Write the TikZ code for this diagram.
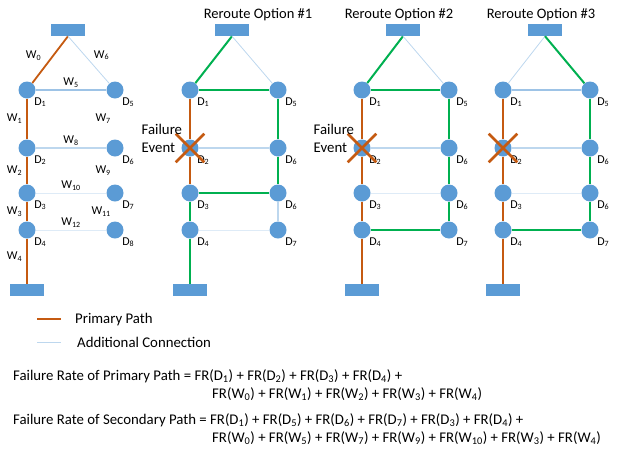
\documentclass[tikz,border=0pt]{standalone}
\usepackage{fontspec}
\setmainfont{Carlito}
\usetikzlibrary{positioning, shapes.misc}
\definecolor{devblue}{HTML}{5B9BD5}
\definecolor{pathorange}{HTML}{C55A11}
\definecolor{routegreen}{HTML}{00B050}
\definecolor{linkblue}{HTML}{9DC3E6}
\definecolor{spareblue}{HTML}{BDD7EE}
\definecolor{paleblue}{HTML}{DEEBF7}
\tikzset{
x=1pt, y=-1pt, % one unit is one pixel of the layout, y grows downwards
dev/.style={circle, fill=devblue, minimum size=17pt, inner sep=0pt}, % a device D
sink/.style={rectangle, fill=devblue, minimum width=34pt, minimum height=12pt, inner sep=0pt}, % end of the path
dlbl/.style={font=\fontsize{12}{14}\selectfont, inner sep=1pt},
wlbl/.style={font=\fontsize{12}{14}\selectfont, inner sep=1pt},
primary/.style={draw=pathorange, line width=1.8pt}, % the primary path
reroute/.style={draw=routegreen, line width=2pt}, % the path taken after the failure
link/.style={draw=linkblue, line width=1.2pt},
spare/.style={draw=spareblue, line width=1.8pt},
thin spare/.style={draw=spareblue, line width=0.8pt},
pale/.style={draw=paleblue, line width=1pt},
failx/.style={cross out, draw=pathorange, line width=2.6pt, minimum size=26pt, inner sep=0pt},
note/.style={font=\fontsize{14.8}{18}\selectfont, align=left, inner sep=0pt},
title/.style={font=\fontsize{14.5}{17}\selectfont, inner sep=0pt},
formula/.style={font=\fontsize{14.8}{18}\selectfont, inner sep=0pt, anchor=base west},
}
\begin{document}
\begin{tikzpicture}
\useasboundingbox (0,0) rectangle (617,458);

% network with all the links
\node[sink] (a0) at (68,30) {};
\node[dev, label={[dlbl]below right:D\textsubscript{1}}] (a1) at (27,90) {};
\node[dev, node distance=58pt, below of=a1, label={[dlbl]below right:D\textsubscript{2}}] (a2) {};
\node[dev, node distance=45pt, below of=a2, label={[dlbl]below right:D\textsubscript{3}}] (a3) {};
\node[dev, node distance=37pt, below of=a3, label={[dlbl]below right:D\textsubscript{4}}] (a4) {};
\node[dev, node distance=88pt, right of=a1, label={[dlbl]below right:D\textsubscript{5}}] (a5) {};
\node[dev, node distance=88pt, right of=a2, label={[dlbl]below right:D\textsubscript{6}}] (a6) {};
\node[dev, node distance=88pt, right of=a3, label={[dlbl]below right:D\textsubscript{7}}] (a7) {};
\node[dev, node distance=88pt, right of=a4, label={[dlbl]below right:D\textsubscript{8}}] (a8) {};
\node[sink, node distance=60pt, below of=a4] (a9) {};

\draw (a0.south) edge[primary] node[wlbl, pos=0.42, left=10pt] {W\textsubscript{0}} (a1)
      (a0.south) edge[thin spare] node[wlbl, pos=0.4, right=8pt] {W\textsubscript{6}} (a5)
      (a1) edge[link] node[wlbl, above=1pt] {W\textsubscript{5}} (a5)
      (a1) edge[primary] node[wlbl, left=3pt] {W\textsubscript{1}} (a2)
      (a2) edge[primary] node[wlbl, left=3pt] {W\textsubscript{2}} (a3)
      (a3) edge[primary] node[wlbl, left=3pt] {W\textsubscript{3}} (a4)
      (a4) edge[primary] node[wlbl, pos=0.4, left=3pt] {W\textsubscript{4}} (a9)
      (a2) edge[spare] node[wlbl, above=1pt] {W\textsubscript{8}} (a6)
      (a3) edge[pale] node[wlbl, above=1pt] {W\textsubscript{10}} (a7)
      (a4) edge[pale] node[wlbl, above=1pt] {W\textsubscript{12}} (a8)
      (a5) edge[draw=none] node[wlbl, left=3pt] {W\textsubscript{7}} (a6)
      (a6) edge[draw=none] node[wlbl, left=3pt] {W\textsubscript{9}} (a7)
      (a7) edge[draw=none] node[wlbl, left=3pt] {W\textsubscript{11}} (a8)
      ;

% reroute option 1
\node[title] (t1) at (258,15) {Reroute Option \#1};
\node[sink] (b0) at (232,30) {};
\node[dev, label={[dlbl]below right:D\textsubscript{1}}] (b1) at (190,90) {};
\node[dev, node distance=58pt, below of=b1, label={[dlbl]below right:D\textsubscript{2}}] (b2) {};
\node[dev, node distance=45pt, below of=b2, label={[dlbl]below right:D\textsubscript{3}}] (b3) {};
\node[dev, node distance=37pt, below of=b3, label={[dlbl]below right:D\textsubscript{4}}] (b4) {};
\node[dev, node distance=88pt, right of=b1, label={[dlbl]below right:D\textsubscript{5}}] (b5) {};
\node[dev, node distance=88pt, right of=b2, label={[dlbl]below right:D\textsubscript{6}}] (b6) {};
\node[dev, node distance=88pt, right of=b3, label={[dlbl]below right:D\textsubscript{6}}] (b7) {};
\node[dev, node distance=88pt, right of=b4, label={[dlbl]below right:D\textsubscript{7}}] (b8) {};
\node[sink, node distance=60pt, below of=b4] (b9) {};

\draw (b0.south) edge[reroute] (b1)
      (b0.south) edge[thin spare] (b5)
      (b1) edge[reroute] (b5)
      (b1) edge[primary] (b2)
      (b2) edge[primary] (b3)
      (b3) edge[reroute] (b4)
      (b4) edge[reroute] (b9)
      (b5) edge[reroute] (b6)
      (b6) edge[reroute] (b7)
      (b2) edge[spare] (b6)
      (b3) edge[reroute] (b7)
      (b7) edge[link, draw=spareblue] (b8)
      (b4) edge[pale] (b8)
      ;
\node[failx] (bx) at (b2) {};
\node[note, left=-1pt of b2, yshift=10pt] (bev) {Failure\\Event};

% reroute option 2
\node[title] (t2) at (399,15) {Reroute Option \#2};
\node[sink] (c0) at (403,30) {};
\node[dev, label={[dlbl]below right:D\textsubscript{1}}] (c1) at (362,90) {};
\node[dev, node distance=58pt, below of=c1, label={[dlbl]below right:D\textsubscript{2}}] (c2) {};
\node[dev, node distance=45pt, below of=c2, label={[dlbl]below right:D\textsubscript{3}}] (c3) {};
\node[dev, node distance=37pt, below of=c3, label={[dlbl]below right:D\textsubscript{4}}] (c4) {};
\node[dev, node distance=87pt, right of=c1, label={[dlbl]below right:D\textsubscript{5}}] (c5) {};
\node[dev, node distance=87pt, right of=c2, label={[dlbl]below right:D\textsubscript{6}}] (c6) {};
\node[dev, node distance=87pt, right of=c3, label={[dlbl]below right:D\textsubscript{6}}] (c7) {};
\node[dev, node distance=87pt, right of=c4, label={[dlbl]below right:D\textsubscript{7}}] (c8) {};
\node[sink, node distance=60pt, below of=c4] (c9) {};

\draw (c0.south) edge[reroute] (c1)
      (c0.south) edge[thin spare] (c5)
      (c1) edge[reroute] (c5)
      (c1) edge[primary] (c2)
      (c2) edge[primary] (c3)
      (c3) edge[primary] (c4)
      (c4) edge[primary] (c9)
      (c5) edge[reroute] (c6)
      (c6) edge[reroute] (c7)
      (c7) edge[reroute] (c8)
      (c2) edge[spare] (c6)
      (c3) edge[pale] (c7)
      (c4) edge[reroute] (c8)
      ;
\node[failx] (cx) at (c2) {};
\node[note, left=-1pt of c2, yshift=10pt] (cev) {Failure\\Event};

% reroute option 3
\node[title] (t3) at (541,15) {Reroute Option \#3};
\node[sink] (d0) at (545,30) {};
\node[dev, label={[dlbl]below right:D\textsubscript{1}}] (d1) at (503,90) {};
\node[dev, node distance=58pt, below of=d1, label={[dlbl]below right:D\textsubscript{2}}] (d2) {};
\node[dev, node distance=45pt, below of=d2, label={[dlbl]below right:D\textsubscript{3}}] (d3) {};
\node[dev, node distance=37pt, below of=d3, label={[dlbl]below right:D\textsubscript{4}}] (d4) {};
\node[dev, node distance=87pt, right of=d1, label={[dlbl]below right:D\textsubscript{5}}] (d5) {};
\node[dev, node distance=87pt, right of=d2, label={[dlbl]below right:D\textsubscript{6}}] (d6) {};
\node[dev, node distance=87pt, right of=d3, label={[dlbl]below right:D\textsubscript{6}}] (d7) {};
\node[dev, node distance=87pt, right of=d4, label={[dlbl]below right:D\textsubscript{7}}] (d8) {};
\node[sink, node distance=60pt, below of=d4] (d9) {};

\draw (d0.south) edge[thin spare] (d1)
      (d0.south) edge[reroute] (d5)
      (d1) edge[link] (d5)
      (d1) edge[primary, line width=1.2pt] (d2)
      (d2) edge[primary, line width=1.2pt] (d3)
      (d3) edge[primary, line width=1.2pt] (d4)
      (d4) edge[primary, line width=1.2pt] (d9)
      (d5) edge[reroute] (d6)
      (d6) edge[reroute] (d7)
      (d7) edge[reroute] (d8)
      (d2) edge[spare] (d6)
      (d3) edge[pale] (d7)
      (d4) edge[reroute] (d8)
      ;
\node[failx] (dx) at (d2) {};

% legend
\coordinate (k1) at (37,319);
\coordinate (k2) at (61,319);
\coordinate (k3) at (37,342);
\coordinate (k4) at (61,342);
\draw[primary, line width=1.4pt] (k1) -- (k2);
\draw[thin spare] (k3) -- (k4);
\node[formula] (k5) at (75,323) {Primary Path};
\node[formula] (k6) at (77,347) {Additional Connection};

% failure rates
\node[formula] (f1) at (13,380) {Failure Rate of Primary Path = FR(D\textsubscript{1}) + FR(D\textsubscript{2}) + FR(D\textsubscript{3}) + FR(D\textsubscript{4}) +};
\node[formula] (f2) at (212,398) {FR(W\textsubscript{0}) + FR(W\textsubscript{1}) + FR(W\textsubscript{2}) + FR(W\textsubscript{3}) + FR(W\textsubscript{4})};
\node[formula] (f3) at (13,424) {Failure Rate of Secondary Path = FR(D\textsubscript{1}) + FR(D\textsubscript{5}) + FR(D\textsubscript{6}) + FR(D\textsubscript{7}) + FR(D\textsubscript{3}) + FR(D\textsubscript{4}) +};
\node[formula] (f4) at (212,442) {FR(W\textsubscript{0}) + FR(W\textsubscript{5}) + FR(W\textsubscript{7}) + FR(W\textsubscript{9}) + FR(W\textsubscript{10}) + FR(W\textsubscript{3}) + FR(W\textsubscript{4})};
\end{tikzpicture}
\end{document}
